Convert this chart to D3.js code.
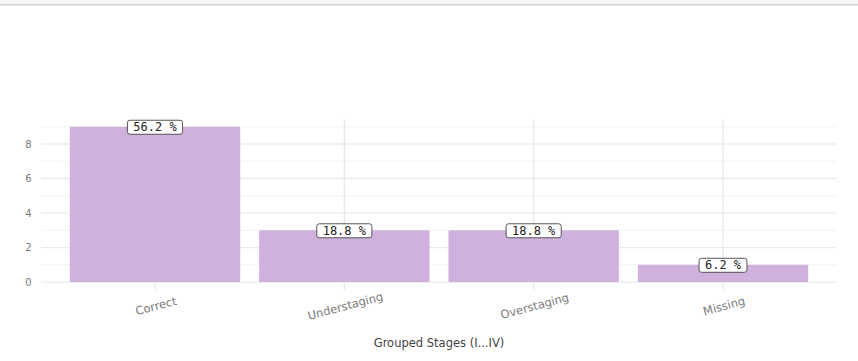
<!DOCTYPE html>
<html>
<head>
<meta charset="utf-8">
<script src="https://cdn.jsdelivr.net/npm/d3@7"></script>
<style>
  html, body { margin: 0; padding: 0; background: #fff; }
  svg { display: block; }
</style>
</head>
<body>
<svg id="chart" width="858" height="361"></svg>
<script>
// Stage agreement counts
const categories = ["Correct", "Understaging", "Overstaging", "Missing"];
const counts = [9, 3, 3, 1];
const yTicks = [0, 2, 4, 6, 8];
const yMinor = [1, 3, 5, 7, 9];
const xTitle = "Grouped Stages (I...IV)";

const W = 858, H = 361;
const svg = d3.select("#chart");

// top strip
svg.append("rect").attr("x", 0).attr("y", 0).attr("width", W).attr("height", 4).attr("fill", "#f7f7f7");
svg.append("rect").attr("x", 0).attr("y", 4).attr("width", W).attr("height", 1.5).attr("fill", "#d2d2d2");

const panel = { left: 41.4, right: 836.6, top: 119, bottom: 289.8 };

const total = d3.sum(counts);
const maxV = d3.max(counts);
const pad = maxV * 0.05;
const y = d3.scaleLinear().domain([-pad, maxV + pad]).range([panel.bottom, panel.top]);

// discrete axis with 0.6 expansion on each side
const xPos = d3.scaleLinear().domain([0.4, categories.length + 0.6]).range([panel.left, panel.right]);
const xc = (i) => xPos(i + 1);
const barW = (xPos(1.9) - xPos(1));

// one decimal, ties rounded to even
function pct(v) {
  const s = v / total * 1000;
  const f = Math.floor(s);
  const diff = s - f;
  let r;
  if (Math.abs(diff - 0.5) < 1e-9) r = (f % 2 === 0) ? f : f + 1;
  else r = Math.round(s);
  return (r / 10).toFixed(1) + " %";
}

const grid = svg.append("g");
// minor horizontal gridlines
grid.selectAll("line.minor").data(yMinor).join("line")
  .attr("x1", panel.left).attr("x2", panel.right)
  .attr("y1", d => y(d)).attr("y2", d => y(d))
  .attr("stroke", "#f3f3f3").attr("stroke-width", 1);
// major horizontal gridlines
grid.selectAll("line.major").data(yTicks).join("line")
  .attr("x1", panel.left).attr("x2", panel.right)
  .attr("y1", d => y(d)).attr("y2", d => y(d))
  .attr("stroke", "#ebebeb").attr("stroke-width", 1.3);
// vertical gridlines
grid.selectAll("line.v").data(categories).join("line")
  .attr("x1", (d, i) => xc(i)).attr("x2", (d, i) => xc(i))
  .attr("y1", panel.top).attr("y2", panel.bottom)
  .attr("stroke", "#e8e8e8").attr("stroke-width", 1.3);

// bars
svg.append("g").selectAll("rect").data(counts).join("rect")
  .attr("x", (d, i) => xc(i) - barW / 2)
  .attr("width", barW)
  .attr("y", d => y(d))
  .attr("height", d => y(0) - y(d))
  .attr("fill", "#cfb1dd");

// y axis labels
svg.append("g").selectAll("text").data(yTicks).join("text")
  .attr("x", 31.5).attr("y", d => y(d))
  .attr("dy", "0.35em")
  .attr("text-anchor", "end")
  .attr("font-family", "DejaVu Sans, sans-serif")
  .attr("font-size", 10)
  .attr("fill", "#7a7a7a")
  .text(d => d);

// x axis labels, slightly rotated
svg.append("g").selectAll("text").data(categories).join("text")
  .attr("transform", (d, i) => `translate(${xc(i) + 1},${306}) rotate(-15)`)
  .attr("text-anchor", "middle")
  .attr("dy", "0.35em")
  .attr("font-family", "DejaVu Sans, sans-serif")
  .attr("font-size", 11.5)
  .attr("fill", "#7a7a7a")
  .text(d => d);

// x axis title
svg.append("text")
  .attr("x", (panel.left + panel.right) / 2).attr("y", 343)
  .attr("dy", "0.35em")
  .attr("text-anchor", "middle")
  .attr("font-family", "DejaVu Sans, sans-serif")
  .attr("font-size", 11.5)
  .attr("fill", "#444")
  .text(xTitle);

// percentage labels in boxes
const labels = svg.append("g");
counts.forEach((v, i) => {
  const g = labels.append("g").attr("transform", `translate(${xc(i)},${y(v)})`);
  const rect = g.append("rect").attr("fill", "#fff").attr("stroke", "#444").attr("stroke-width", 0.9).attr("rx", 2.5);
  const t = g.append("text")
    .attr("text-anchor", "middle")
    .attr("dy", "0.36em")
    .attr("font-family", "DejaVu Sans Mono, monospace")
    .attr("font-size", 12)
    .attr("fill", "#222")
    .text(pct(v));
  const bb = t.node().getBBox();
  const w = bb.width + 11, h = 14;
  rect.attr("x", -w / 2).attr("y", -h / 2 + 0.5).attr("width", w).attr("height", h);
});
</script>
</body>
</html>
